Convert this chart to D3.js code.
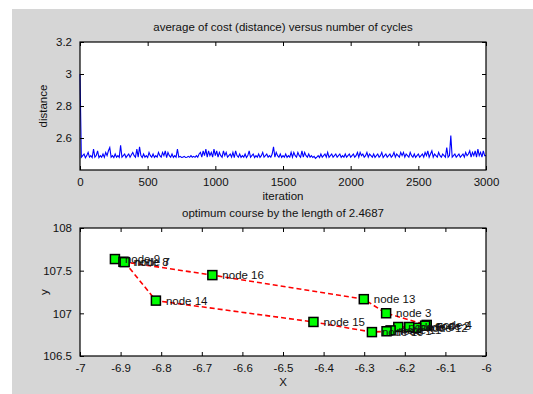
<!DOCTYPE html>
<html><head><meta charset="utf-8">
<script src="https://cdn.jsdelivr.net/npm/d3@7"></script>
<style>
html,body{margin:0;padding:0;background:#fff;}
svg{display:block;}
text{font-family:"Liberation Sans",Arial,sans-serif;font-size:11px;fill:#111;}
</style></head><body>
<script>
// ---- data ----
const iterStep = 10;
const avgCost = [
3.00,2.48,2.49,2.50,2.477,2.49,2.51,2.48,2.49,2.478,
2.53,2.48,2.49,2.52,2.478,2.49,2.48,2.50,2.479,2.51,
2.49,2.52,2.54,2.48,2.49,2.478,2.50,2.48,2.49,2.479,
2.555,2.48,2.49,2.50,2.478,2.49,2.50,2.48,2.495,2.51,
2.49,2.48,2.53,2.48,2.545,2.49,2.478,2.50,2.48,2.49,
2.478,2.51,2.49,2.48,2.50,2.479,2.49,2.48,2.51,2.49,
2.48,2.51,2.49,2.52,2.478,2.51,2.49,2.48,2.50,2.479,
2.49,2.48,2.53,2.48,2.485,2.479,2.48,2.485,2.478,2.48,
2.485,2.479,2.49,2.48,2.485,2.479,2.49,2.48,2.50,2.51,
2.48,2.52,2.49,2.53,2.48,2.52,2.49,2.51,2.48,2.53,
2.49,2.52,2.48,2.51,2.49,2.48,2.52,2.49,2.51,2.48,
2.49,2.50,2.48,2.51,2.478,2.52,2.49,2.48,2.50,2.479,
2.49,2.48,2.50,2.478,2.49,2.52,2.48,2.49,2.50,2.478,
2.49,2.48,2.50,2.479,2.49,2.51,2.48,2.49,2.50,2.48,
2.49,2.48,2.50,2.545,2.48,2.51,2.49,2.48,2.50,2.479,
2.49,2.48,2.50,2.479,2.49,2.48,2.51,2.48,2.51,2.49,
2.48,2.51,2.49,2.48,2.52,2.48,2.51,2.49,2.48,2.50,
2.48,2.49,2.478,2.485,2.472,2.48,2.49,2.478,2.50,2.48,
2.49,2.50,2.48,2.51,2.479,2.49,2.50,2.48,2.49,2.50,
2.48,2.49,2.50,2.479,2.49,2.48,2.50,2.48,2.49,2.50,
2.48,2.49,2.50,2.48,2.49,2.51,2.48,2.51,2.49,2.50,
2.48,2.49,2.51,2.48,2.50,2.49,2.48,2.50,2.479,2.49,
2.50,2.48,2.49,2.51,2.478,2.49,2.50,2.48,2.49,2.50,
2.48,2.49,2.51,2.48,2.50,2.49,2.48,2.51,2.49,2.51,
2.48,2.50,2.49,2.48,2.51,2.49,2.48,2.50,2.479,2.49,
2.50,2.48,2.49,2.50,2.48,2.51,2.49,2.52,2.48,2.50,
2.52,2.48,2.50,2.49,2.48,2.51,2.49,2.48,2.50,2.49,
2.48,2.54,2.48,2.49,2.615,2.48,2.49,2.50,2.48,2.49,
2.50,2.48,2.49,2.50,2.48,2.51,2.49,2.50,2.52,2.48,
2.51,2.49,2.52,2.48,2.53,2.49,2.51,2.48,2.52,2.49,
2.49];
const iterTicks = [0,500,1000,1500,2000,2500,3000];
const costTicks = [2.6,2.8,3,3.2];

// tour order (closed)
const nodeIds = [9,8,16,13,3,4,2,12,6,5,11,1,10,15,14,7];
const nodeX = [-6.914,-6.893,-6.674,-6.301,-6.246,-6.146,-6.150,-6.172,-6.189,-6.216,-6.235,-6.245,-6.281,-6.425,-6.813,-6.890];
const nodeY = [107.636,107.604,107.448,107.166,107.001,106.864,106.855,106.830,106.840,106.840,106.800,106.790,106.780,106.899,107.149,107.600];
const xTicks = [-7,-6.9,-6.8,-6.7,-6.6,-6.5,-6.4,-6.3,-6.2,-6.1,-6];
const yTicks = [106.5,107,107.5,108];
const bestLength = 2.4687;

// ---- drawing ----
const W=533,H=394;
const svg=d3.select("body").append("svg").attr("width",W).attr("height",H);
svg.append("rect").attr("x",12).attr("y",9).attr("width",W-12).attr("height",H-9).attr("fill","#d6d6d6");

const fmt = v => String(+v.toFixed(4)).replace("\u2212","-");

function axesBox(x0,x1,y0,y1,xs,ys,xt,yt){
  const g=svg.append("g");
  g.append("rect").attr("x",x0).attr("y",y0).attr("width",x1-x0).attr("height",y1-y0).attr("fill","#fff");
  return g;
}
function decorate(g,x0,x1,y0,y1,xs,ys,xt,yt){
  const tl=4;
  // bottom axis
  const bx=d3.axisBottom(xs).tickValues(xt).tickSize(-tl).tickPadding(8).tickFormat(fmt);
  const ab=g.append("g").attr("transform",`translate(0,${y1})`).call(bx);
  const tx=d3.axisTop(xs).tickValues(xt).tickSize(-tl).tickFormat("");
  const at=g.append("g").attr("transform",`translate(0,${y0})`).call(tx);
  const ly=d3.axisLeft(ys).tickValues(yt).tickSize(-tl).tickPadding(8).tickFormat(fmt);
  const al=g.append("g").attr("transform",`translate(${x0},0)`).call(ly);
  const ry=d3.axisRight(ys).tickValues(yt).tickSize(-tl).tickFormat("");
  const ar=g.append("g").attr("transform",`translate(${x1},0)`).call(ry);
  [ab,at,al,ar].forEach(a=>{a.select(".domain").remove();a.selectAll("line").attr("stroke","#000");
    a.selectAll("text").attr("font-size",null).attr("font-family",null).style("font-size","11.5px").attr("fill","#111");});
  g.append("rect").attr("x",x0).attr("y",y0).attr("width",x1-x0).attr("height",y1-y0)
   .attr("fill","none").attr("stroke","#000").attr("stroke-width",1.2);
}

// top plot
{
  const x0=80,x1=486,y0=42,y1=170;
  const xs=d3.scaleLinear().domain([0,3000]).range([x0,x1]);
  const ys=d3.scaleLinear().domain([2.4,3.2]).range([y1,y0]);
  const g=axesBox(x0,x1,y0,y1);
  const line=d3.line().x((d,i)=>xs(i*iterStep)).y(d=>ys(d));
  g.append("path").datum(avgCost).attr("d",line).attr("fill","none").attr("stroke","#0000ff").attr("stroke-width",1.1);
  decorate(g,x0,x1,y0,y1,xs,ys,iterTicks,costTicks);
  svg.append("text").attr("x",(x0+x1)/2).attr("y",28).attr("text-anchor","middle").attr("dominant-baseline","middle")
    .style("font-size","11.5px").text("average of cost (distance) versus number of cycles");
  svg.append("text").attr("x",(x0+x1)/2).attr("y",197).attr("text-anchor","middle").attr("dominant-baseline","middle")
    .style("font-size","11.5px").text("iteration");
  svg.append("text").attr("transform",`translate(44,${(y0+y1)/2}) rotate(-90)`).attr("text-anchor","middle").attr("dominant-baseline","middle")
    .style("font-size","11.5px").text("distance");
}

// bottom plot
{
  const x0=80,x1=486,y0=228,y1=356;
  const xs=d3.scaleLinear().domain([-7,-6]).range([x0,x1]);
  const ys=d3.scaleLinear().domain([106.5,108]).range([y1,y0]);
  const g=axesBox(x0,x1,y0,y1);
  const pts=nodeIds.map((id,i)=>({id,x:nodeX[i],y:nodeY[i]}));
  const tour=pts.concat([pts[0]]);
  g.append("path").datum(tour).attr("d",d3.line().x(d=>xs(d.x)).y(d=>ys(d.y)))
    .attr("fill","none").attr("stroke","#ff0000").attr("stroke-width",1.6).attr("stroke-dasharray","5,3");
  const s=9;
  g.selectAll("rect.m").data(pts).join("rect").attr("class","m")
    .attr("x",d=>xs(d.x)-s/2).attr("y",d=>ys(d.y)-s/2).attr("width",s).attr("height",s)
    .attr("fill","#00ff00").attr("stroke","#000").attr("stroke-width",1.5);
  g.selectAll("text.lbl").data(pts).join("text").attr("class","lbl")
    .attr("x",d=>xs(d.x)+10).attr("y",d=>ys(d.y)+1).attr("dominant-baseline","middle")
    .style("font-size","11.5px").text(d=>"node "+d.id);
  decorate(g,x0,x1,y0,y1,xs,ys,xTicks,yTicks);
  svg.append("text").attr("x",(x0+x1)/2).attr("y",214).attr("text-anchor","middle").attr("dominant-baseline","middle")
    .style("font-size","11.5px").text("optimum course by the length of "+bestLength);
  svg.append("text").attr("x",(x0+x1)/2).attr("y",383).attr("text-anchor","middle").attr("dominant-baseline","middle")
    .style("font-size","11.5px").text("X");
  svg.append("text").attr("transform",`translate(45,${(y0+y1)/2}) rotate(-90)`).attr("text-anchor","middle").attr("dominant-baseline","middle")
    .style("font-size","11.5px").text("y");
}
</script>
</body></html>
